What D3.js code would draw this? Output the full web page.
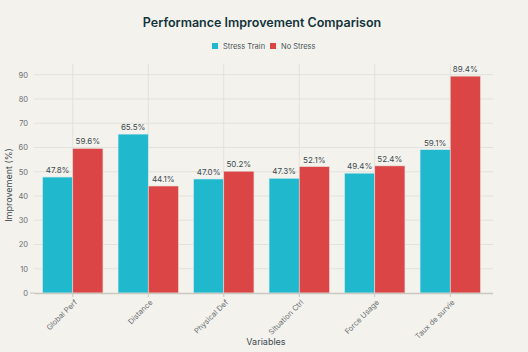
<!DOCTYPE html>
<html><head><meta charset="utf-8">
<script src="https://cdn.jsdelivr.net/npm/d3@7/dist/d3.min.js"></script>
<style>
html,body{margin:0;padding:0;background:#f3f2ed;}
svg{display:block;font-family:Inter,"Open Sans",sans-serif;}
</style></head><body>
<svg id="c" width="528" height="352"></svg>
<script>
const categories = ["Global Perf","Distance","Physical Def","Situation Ctrl","Force Usage","Taux de survie"];
const seriesNames = ["Stress Train","No Stress"];
const stressTrain = [47.8,65.5,47.0,47.3,49.4,59.1];
const noStress = [59.6,44.1,50.2,52.1,52.4,89.4];
const yTicks = [0,10,20,30,40,50,60,70,80,90];
const colors = ["#1FB8CD","#DB4545"];

const svg = d3.select("#c");
const W = 528, H = 352;
const x = d3.scaleBand().domain(categories).range([35,488]).paddingInner(0.2).paddingOuter(0.1);
const xs = d3.scaleBand().domain(seriesNames).range([0,x.bandwidth()]);
const y = d3.scaleLinear().domain([0,94.4]).range([293,64]);

svg.append("rect").attr("width",W).attr("height",H).attr("fill","#f3f2ed");

// grid
svg.append("g").selectAll("line").data(yTicks.filter(d=>d>0)).join("line")
  .attr("x1",34).attr("x2",493).attr("y1",d=>y(d)).attr("y2",d=>y(d))
  .attr("stroke","#e2e1db").attr("stroke-width",1);
svg.append("g").selectAll("line").data(categories).join("line")
  .attr("x1",d=>x(d)+x.bandwidth()/2).attr("x2",d=>x(d)+x.bandwidth()/2)
  .attr("y1",64).attr("y2",293).attr("stroke","#e2e1db").attr("stroke-width",1);

// bars
const data = categories.map((c,i)=>({c, vals:[{s:seriesNames[0],v:stressTrain[i]},{s:seriesNames[1],v:noStress[i]}]}));
const g = svg.append("g").selectAll("g").data(data).join("g").attr("transform",d=>`translate(${x(d.c)},0)`);
g.selectAll("rect").data(d=>d.vals).join("rect")
  .attr("x",d=>xs(d.s)).attr("width",xs.bandwidth())
  .attr("y",d=>y(d.v)).attr("height",d=>y(0)-y(d.v))
  .attr("fill",(d,i)=>colors[i]).attr("stroke",(d,i)=>i?"#e8dcd5":"#d9ecee").attr("stroke-width",0.6);
g.selectAll("text").data(d=>d.vals).join("text")
  .attr("x",d=>xs(d.s)+xs.bandwidth()/2).attr("y",d=>y(d.v)-4)
  .attr("text-anchor","middle").attr("font-size",8).attr("fill","#3d4a4f")
  .text(d=>d.v.toFixed(1)+"%");

// axes
const ya = svg.append("g").attr("transform","translate(34,0)")
  .call(d3.axisLeft(y).tickValues(yTicks).tickSize(0).tickPadding(6));
ya.select(".domain").remove();
ya.selectAll("text").attr("font-size",7.5).attr("fill","#6b6f72").attr("font-family","Inter,sans-serif");
ya.append("line").attr("x1",-4).attr("x2",0).attr("y1",y(0)).attr("y2",y(0)).attr("stroke","#c8c7c0");

svg.append("line").attr("x1",34).attr("x2",493).attr("y1",293.5).attr("y2",293.5)
  .attr("stroke","#c9c8c1").attr("stroke-width",1.5);

const xa = svg.append("g").attr("transform","translate(0,293)")
  .call(d3.axisBottom(x).tickSize(4).tickPadding(3));
xa.select(".domain").remove();
xa.selectAll("line").attr("stroke","#c9c8c1");
xa.selectAll("text").attr("font-size",7.5).attr("fill","#6b6f72").attr("font-family","Inter,sans-serif")
  .attr("text-anchor","end").attr("x",0).attr("y",0).attr("dy","0.35em")
  .attr("transform","translate(3,8) rotate(-45)");

// labels
svg.append("text").attr("x",262).attr("y",27).attr("text-anchor","middle")
  .attr("font-size",12.5).attr("font-weight",600).attr("fill","#13343b")
  .text("Performance Improvement Comparison");
svg.append("text").attr("x",266).attr("y",345).attr("text-anchor","middle")
  .attr("font-size",9).attr("fill","#3d4a4f").text("Variables");
svg.append("text").attr("transform","translate(12,185) rotate(-90)").attr("text-anchor","middle")
  .attr("font-size",9).attr("fill","#3d4a4f").text("Improvement (%)");

// legend
const lg = svg.append("g");
const legendX = [212,270];
seriesNames.forEach((s,i)=>{
  lg.append("rect").attr("x",legendX[i]).attr("y",43).attr("width",6).attr("height",6).attr("fill",colors[i]);
  lg.append("text").attr("x",legendX[i]+11).attr("y",49).attr("font-size",7.5).attr("fill","#4a5357").text(s);
});
</script>
</body></html>
